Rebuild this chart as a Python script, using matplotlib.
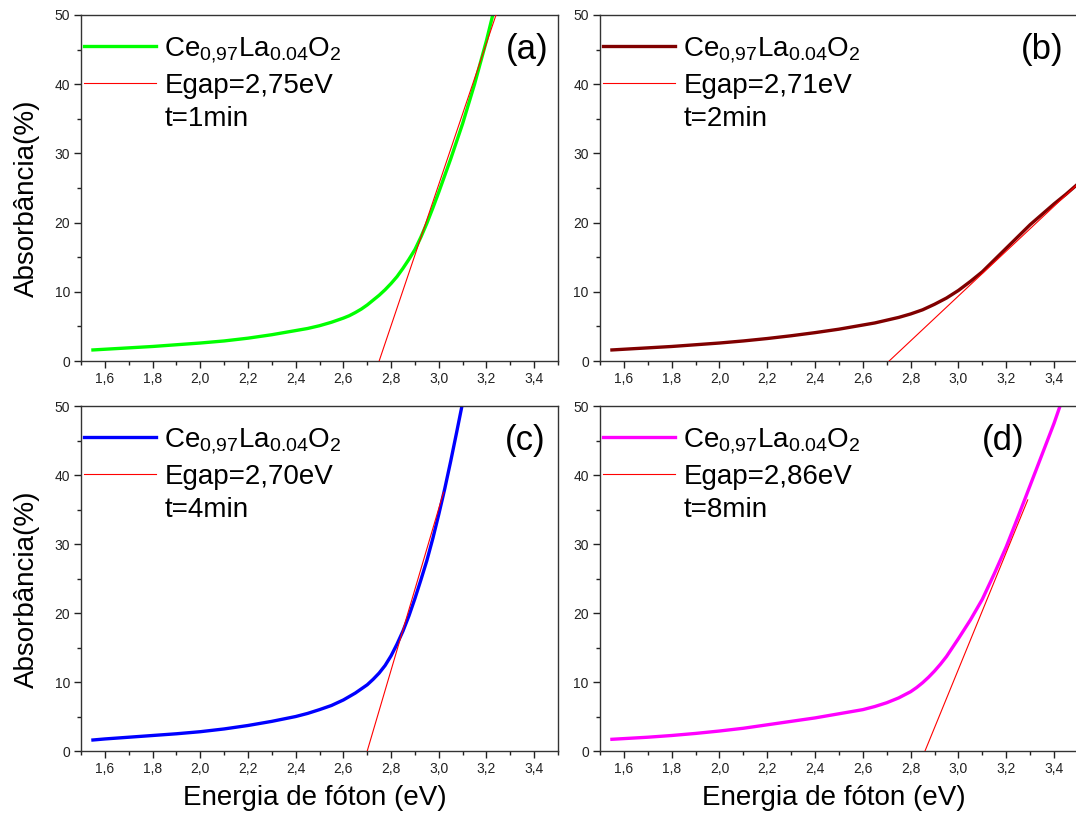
import matplotlib
matplotlib.use('Agg')
import matplotlib.pyplot as plt
from matplotlib.lines import Line2D
from matplotlib.ticker import MultipleLocator, FuncFormatter

plt.rcParams['font.family'] = ['Liberation Sans', 'DejaVu Sans']
plt.rcParams['mathtext.fontset'] = 'custom'
plt.rcParams['mathtext.rm'] = 'Liberation Sans'
plt.rcParams['mathtext.it'] = 'Liberation Sans:italic'

# absorbance curves (energy in eV, absorbance in %)
a_x = [1.55, 1.6, 1.7, 1.8, 1.9, 2.0, 2.1, 2.2, 2.3, 2.4, 2.45, 2.5, 2.55, 2.6,
       2.625, 2.65, 2.675, 2.7, 2.725, 2.75, 2.775, 2.8, 2.825, 2.85, 2.875, 2.9,
       2.925, 2.95, 2.975, 3.0, 3.05, 3.1, 3.15, 3.2, 3.23]
a_y = [1.6, 1.7, 1.9, 2.1, 2.35, 2.6, 2.9, 3.3, 3.8, 4.4, 4.7, 5.1, 5.6, 6.2,
       6.55, 7.0, 7.5, 8.1, 8.8, 9.5, 10.3, 11.2, 12.2, 13.4, 14.7, 16.1,
       17.9, 19.9, 22.1, 24.4, 29.2, 34.3, 40.0, 46.3, 50.5]

b_x = [1.55, 1.6, 1.7, 1.8, 1.9, 2.0, 2.1, 2.2, 2.3, 2.4, 2.5, 2.6, 2.65, 2.7, 2.75,
       2.8, 2.85, 2.9, 2.95, 3.0, 3.05, 3.1, 3.15, 3.2, 3.25, 3.3, 3.35, 3.4, 3.45, 3.5]
b_y = [1.6, 1.7, 1.9, 2.1, 2.35, 2.6, 2.9, 3.25, 3.65, 4.1, 4.6, 5.2, 5.5, 5.9, 6.3,
       6.8, 7.4, 8.2, 9.1, 10.2, 11.5, 12.9, 14.6, 16.3, 18.0, 19.7, 21.2, 22.7, 24.1, 25.6]

c_x = [1.55, 1.6, 1.7, 1.8, 1.9, 2.0, 2.1, 2.2, 2.3, 2.4, 2.45, 2.5, 2.55, 2.6,
       2.625, 2.65, 2.675, 2.7, 2.725, 2.75, 2.775, 2.8, 2.825, 2.85, 2.875, 2.9,
       2.925, 2.95, 2.975, 3.0, 3.025, 3.05, 3.075, 3.1]
c_y = [1.6, 1.75, 2.0, 2.25, 2.5, 2.8, 3.2, 3.7, 4.3, 5.0, 5.45, 6.0, 6.6, 7.4,
       7.9, 8.4, 9.0, 9.6, 10.4, 11.3, 12.4, 13.8, 15.5, 17.4, 19.6, 22.1,
       24.8, 27.6, 30.8, 34.3, 38.0, 42.0, 46.2, 50.5]

d_x = [1.55, 1.6, 1.7, 1.8, 1.9, 2.0, 2.1, 2.2, 2.3, 2.4, 2.5, 2.6, 2.65, 2.7, 2.75,
       2.8, 2.825, 2.85, 2.875, 2.9, 2.925, 2.95, 2.975, 3.0, 3.05, 3.1, 3.15, 3.2,
       3.25, 3.3, 3.35, 3.4, 3.43]
d_y = [1.7, 1.8, 2.0, 2.25, 2.55, 2.9, 3.3, 3.8, 4.3, 4.8, 5.4, 6.0, 6.45, 7.0, 7.7,
       8.6, 9.2, 9.9, 10.7, 11.6, 12.6, 13.7, 15.0, 16.3, 19.0, 22.0, 25.7, 29.6,
       34.0, 38.5, 43.0, 47.5, 50.5]

# linear fits used for the band gap (start at Egap, y=0)
fit_x = [[2.75, 3.24], [2.71, 3.5], [2.70, 3.02], [2.86, 3.29]]
fit_y = [[0, 50], [0, 25.6], [0, 37.5], [0, 36.4]]

egaps = ['2,75', '2,71', '2,70', '2,86']
times = ['1', '2', '4', '8']
panels = ['(a)', '(b)', '(c)', '(d)']
colors = ['#00ff00', '#800000', '#0000ff', '#ff00ff']
curves = [(a_x, a_y), (b_x, b_y), (c_x, c_y), (d_x, d_y)]

fig = plt.figure(figsize=(10.76, 8.19), dpi=100)
positions = [
    [0.0753, 0.5592, 0.4433, 0.4225],
    [0.5576, 0.5592, 0.4442, 0.4225],
    [0.0753, 0.0830, 0.4433, 0.4212],
    [0.5576, 0.0830, 0.4442, 0.4212],
]
label_xy = [(0.935, 0.899), (0.925, 0.899), (0.931, 0.901), (0.843, 0.90)]
comma = FuncFormatter(lambda v, p: '{:.1f}'.format(v).replace('.', ','))

for i in range(4):
    axes = fig.add_axes(positions[i])
    xs, ys = curves[i]
    curve, = axes.plot(xs, ys, color=colors[i], lw=2.4, solid_joinstyle='round', zorder=2)
    fit, = axes.plot(fit_x[i], fit_y[i], color='#ff0000', lw=0.8, zorder=3)
    axes.set_xlim(1.5, 3.5)
    axes.set_ylim(0, 50)

    axes.xaxis.set_major_locator(MultipleLocator(0.2))
    axes.xaxis.set_minor_locator(MultipleLocator(0.1))
    axes.yaxis.set_major_locator(MultipleLocator(10))
    axes.yaxis.set_minor_locator(MultipleLocator(5))
    axes.xaxis.set_major_formatter(comma)
    axes.tick_params(which='both', direction='out', top=False, right=False,
                     color='#222222', width=1)
    axes.tick_params(which='major', length=5, labelsize=10, pad=3, labelcolor='#222222')
    axes.tick_params(which='minor', length=3)
    for spine in axes.spines.values():
        spine.set_color('#333333')
        spine.set_linewidth(1)

    blank = Line2D([], [], color='none')
    labels = [r'$\mathrm{Ce_{0{,}97}La_{0.04}O_{2}}$',
              'Egap={}eV'.format(egaps[i]),
              't={}min'.format(times[i])]
    axes.legend([curve, fit, blank], labels, loc='upper left',
                bbox_to_anchor=(0.006, 0.942), frameon=False, fontsize=20,
                handlelength=2.6, handletextpad=0.3, labelspacing=0.28,
                borderpad=0, borderaxespad=0)
    axes.text(label_xy[i][0], label_xy[i][1], panels[i], transform=axes.transAxes,
              fontsize=25, ha='center', va='center')

    if i % 2 == 0:
        axes.set_ylabel('Absorbância(%)', fontsize=20, va='center')
        axes.yaxis.set_label_coords(-0.113, 0.47)
    if i >= 2:
        axes.set_xlabel('Energia de fóton (eV)', fontsize=20, va='center')
        axes.xaxis.set_label_coords(0.49, -0.136)

fig.savefig('out.png', dpi=100)
